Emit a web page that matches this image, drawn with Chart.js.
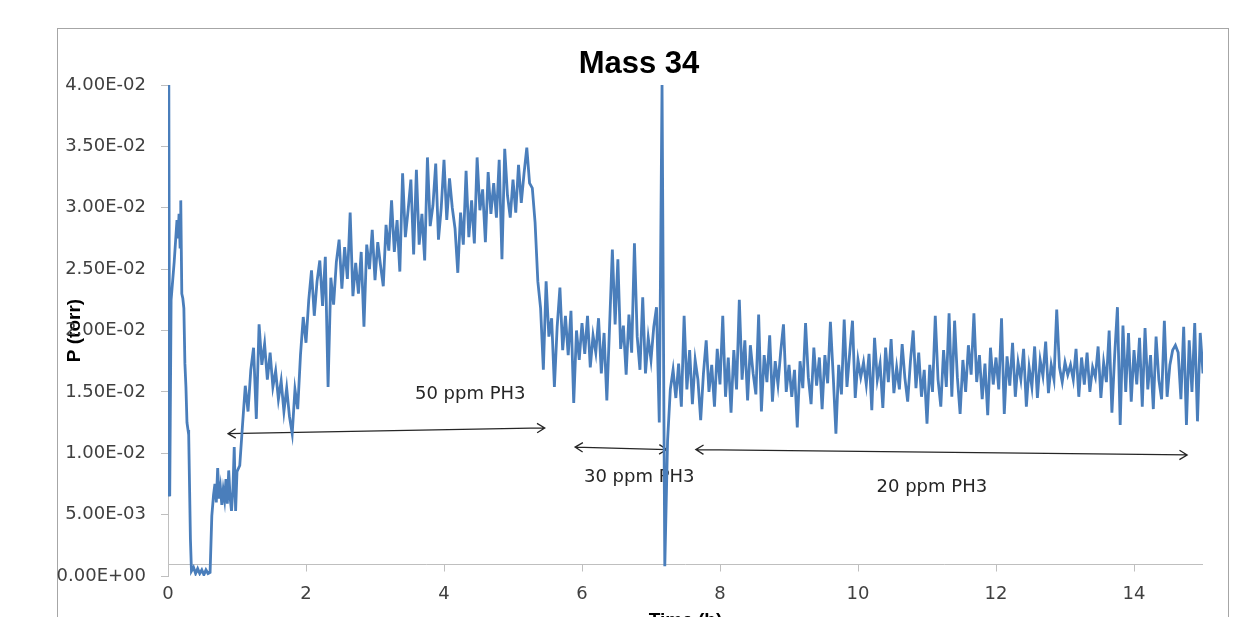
<!DOCTYPE html>
<html>
<head>
<meta charset="utf-8">
<title>Mass 34</title>
<script src="https://cdn.jsdelivr.net/npm/chart.js@4.4.1/dist/chart.umd.min.js"></script>
<style>
  html, body { margin: 0; padding: 0; background: #fff; overflow: hidden; }
  #frame { position: absolute; left: 57px; top: 28px; width: 1170px; height: 700px; border: 1px solid #a6a6a6; }
  #wrap { position: absolute; left: 0; top: 0; width: 1252px; height: 640px; }
  #chart { width: 1252px; height: 640px; }
</style>
</head>
<body>
<div id="frame"></div>
<div id="wrap"><canvas id="chart" width="1252" height="640"></canvas></div>
<script>
// --- Data (pressure values in 1e-3 torr) ---
const TORR_PER_UNIT = 1e-3;

// start-up: pump-down, spike and first rise, irregular sample times (h)
const startupTimes = [
  0.000, 0.012, 0.025, 0.045, 0.09, 0.13, 0.145, 0.16, 0.175, 0.185,
  0.20, 0.215, 0.23, 0.245, 0.26, 0.275, 0.29, 0.30, 0.325, 0.34,
  0.37, 0.40, 0.43, 0.46, 0.49, 0.52, 0.55, 0.58, 0.61, 0.635,
  0.66, 0.68, 0.70, 0.72, 0.74, 0.76, 0.78, 0.80, 0.82, 0.84,
  0.86, 0.88, 0.90, 0.92, 0.94, 0.96, 0.98, 1.00
];
const startupValues = [
  6.6, 40.0, 6.5, 22.5, 25.6, 29.0, 27.5, 29.5, 26.8, 30.6,
  23.0, 22.6, 21.8, 17.3, 15.4, 12.5, 11.9, 11.5, 3.0, 0.4,
  0.7, 0.2, 0.6, 0.2, 0.5, 0.1, 0.5, 0.2, 0.3, 4.9,
  6.6, 7.5, 6.0, 8.8, 6.3, 7.2, 5.8, 7.0, 6.2, 7.9,
  5.9, 8.6, 6.4, 5.3, 6.9, 10.5, 5.3, 8.5
];

// regular logging, one sample every 0.04 h from 1.04 h to 15.00 h
const RUN_START = 1.04;
const RUN_STEP = 0.04;
const hour1 = [9.0, 12.3, 15.5, 13.4, 16.8, 18.6, 12.8, 20.5, 17.2, 18.9, 16.0, 18.2, 15.4, 16.7, 14.4, 15.9, 13.4, 15.3, 13.0, 11.6, 15.2, 13.6, 18.0, 21.1, 19.0];
const hour2 = [22.5, 24.9, 21.2, 24.0, 25.7, 22.0, 26.0, 15.4, 24.3, 22.1, 25.6, 27.4, 23.4, 26.8, 24.2, 29.6, 22.8, 25.5, 23.0, 26.4, 20.3, 27.0, 25.0, 28.2, 24.1];
const hour3 = [27.2, 25.3, 23.6, 28.6, 26.5, 30.6, 26.4, 29.0, 24.8, 32.8, 27.6, 29.8, 32.3, 26.2, 33.1, 27.0, 29.5, 25.7, 34.1, 28.5, 30.2, 33.6, 27.4, 30.0, 33.9];
const hour4 = [29.0, 32.4, 30.0, 28.3, 24.7, 29.6, 27.0, 33.0, 27.6, 30.6, 27.1, 34.1, 29.8, 31.5, 27.2, 32.9, 29.5, 32.0, 29.2, 33.9, 25.8, 34.8, 31.0, 29.2, 32.3];
const hour5 = [29.6, 33.5, 30.4, 32.8, 34.9, 32.0, 31.6, 28.8, 24.0, 21.8, 16.8, 24.0, 19.5, 21.0, 15.4, 20.3, 23.5, 18.4, 21.2, 18.0, 21.6, 14.1, 20.0, 17.6, 20.6];
const hour6 = [18.1, 21.2, 17.0, 19.6, 18.2, 21.0, 16.5, 19.8, 14.3, 20.4, 26.6, 20.5, 25.8, 18.5, 20.4, 16.4, 21.3, 18.2, 27.1, 19.5, 16.8, 22.7, 16.5, 19.4, 17.6];
const hour7 = [20.3, 21.9, 12.5, 40.0, 0.8, 11.0, 15.2, 16.8, 14.5, 17.3, 13.8, 21.2, 15.2, 18.4, 14.0, 17.6, 16.0, 12.7, 16.5, 19.2, 15.0, 17.2, 13.8, 18.5, 15.6];
const hour8 = [21.2, 14.6, 17.8, 13.3, 18.4, 15.2, 22.5, 16.0, 19.2, 14.3, 18.8, 16.5, 14.8, 21.3, 13.4, 18.0, 15.8, 19.6, 14.2, 17.5, 15.6, 18.3, 20.5, 15.0, 17.2];
const hour9 = [14.6, 16.8, 12.1, 17.5, 15.3, 20.6, 16.2, 14.0, 18.6, 15.5, 17.8, 13.6, 18.0, 15.7, 20.7, 16.4, 11.6, 17.2, 14.8, 20.9, 15.4, 18.2, 20.8, 14.5, 17.6];
const hour10 = [16.2, 17.4, 15.6, 18.1, 13.5, 19.4, 16.0, 17.3, 13.7, 18.6, 15.8, 19.3, 14.9, 17.0, 15.2, 18.9, 16.1, 14.2, 17.5, 20.0, 15.3, 18.2, 14.6, 16.8, 12.4];
const hour11 = [17.2, 15.0, 21.2, 16.0, 13.8, 18.4, 15.4, 21.4, 14.6, 20.8, 16.2, 13.2, 17.6, 15.0, 18.8, 16.4, 21.4, 15.8, 18.0, 14.4, 17.3, 13.1, 18.6, 15.6, 17.8];
const hour12 = [15.2, 21.0, 13.2, 17.9, 15.5, 19.0, 14.6, 17.4, 16.0, 18.5, 13.8, 17.0, 15.4, 18.7, 14.5, 17.6, 16.3, 19.1, 14.9, 17.2, 16.0, 21.7, 17.0, 15.8, 17.4];
const hour13 = [16.4, 17.2, 16.0, 18.5, 14.6, 17.8, 15.6, 18.2, 15.0, 17.0, 16.2, 18.7, 14.5, 17.4, 15.8, 20.0, 13.3, 18.0, 21.9, 12.3, 20.4, 15.0, 19.8, 14.2, 18.4];
const hour14 = [15.6, 19.4, 13.8, 20.2, 15.2, 18.0, 13.6, 19.5, 16.0, 14.4, 20.8, 14.6, 17.2, 18.4, 18.8, 18.2, 14.4, 20.3, 12.3, 19.2, 15.0, 20.6, 12.6, 19.8, 16.5];
const runValues = [].concat(hour1, hour2, hour3, hour4, hour5, hour6, hour7,
  hour8, hour9, hour10, hour11, hour12, hour13, hour14);

// --- Axis settings ---
const X_MAX = 15;
const Y_MAX = 0.04;
const AXIS_CROSS = 0.001; // horizontal axis crosses the P axis here

// --- Annotations (time in h, pressure in 1e-3 torr) ---
const noteLabels = ['50 ppm PH3', '30 ppm PH3', '20 ppm PH3'];
const noteFromH = [0.87, 5.90, 7.65];
const noteToH = [5.46, 7.23, 14.77];
const noteFromP = [11.6, 10.5, 10.3];
const noteToP = [12.06, 10.3, 9.86];
const noteTextH = [4.38, 6.83, 11.07];
const noteTextP = [14.8, 8.0, 7.2];

// --- Build line points ---
const points = [];
startupTimes.forEach((t, i) => points.push({ x: t, y: startupValues[i] * TORR_PER_UNIT }));
runValues.forEach((v, i) => points.push({ x: RUN_START + i * RUN_STEP, y: v * TORR_PER_UNIT }));

function sciLabel(v) {
  if (Math.abs(v) < 1e-12) return '0.00E+00';
  const exp = Math.floor(Math.log10(Math.abs(v)) + 1e-9);
  const mant = v / Math.pow(10, exp);
  const sign = exp < 0 ? '-' : '+';
  return mant.toFixed(2) + 'E' + sign + String(Math.abs(exp)).padStart(2, '0');
}

function drawArrowHead(ctx, x, y, ang) {
  const len = 9, spread = 0.55;
  ctx.moveTo(x - len * Math.cos(ang - spread), y - len * Math.sin(ang - spread));
  ctx.lineTo(x, y);
  ctx.lineTo(x - len * Math.cos(ang + spread), y - len * Math.sin(ang + spread));
}

// axis line at AXIS_CROSS plus the span arrows, under the data line
const underlayPlugin = {
  id: 'underlay',
  beforeDatasetsDraw(chart) {
    const { ctx, chartArea, scales: { x, y } } = chart;
    ctx.save();

    const py = Math.round(y.getPixelForValue(AXIS_CROSS)) + 0.5;
    ctx.strokeStyle = '#bfbfbf';
    ctx.lineWidth = 1;
    ctx.beginPath();
    ctx.moveTo(chartArea.left, py);
    ctx.lineTo(chartArea.right, py);
    x.ticks.forEach(t => {
      const px = Math.round(x.getPixelForValue(t.value)) + 0.5;
      ctx.moveTo(px, py);
      ctx.lineTo(px, py + 7);
    });
    ctx.stroke();

    ctx.strokeStyle = '#262626';
    ctx.lineWidth = 1.3;
    ctx.fillStyle = '#262626';
    ctx.font = '18px "DejaVu Sans"';
    ctx.textAlign = 'center';
    ctx.textBaseline = 'middle';
    noteLabels.forEach((label, i) => {
      const x1 = x.getPixelForValue(noteFromH[i]);
      const y1 = y.getPixelForValue(noteFromP[i] * TORR_PER_UNIT);
      const x2 = x.getPixelForValue(noteToH[i]);
      const y2 = y.getPixelForValue(noteToP[i] * TORR_PER_UNIT);
      const ang = Math.atan2(y2 - y1, x2 - x1);
      ctx.beginPath();
      ctx.moveTo(x1, y1);
      ctx.lineTo(x2, y2);
      drawArrowHead(ctx, x2, y2, ang);
      drawArrowHead(ctx, x1, y1, ang + Math.PI);
      ctx.stroke();
      ctx.fillText(label,
        x.getPixelForValue(noteTextH[i]),
        y.getPixelForValue(noteTextP[i] * TORR_PER_UNIT));
    });
    ctx.restore();
  }
};

const tickFont = { family: 'DejaVu Sans', size: 18 };
const titleFont = { family: 'Liberation Sans', size: 19, weight: 'bold' };

new Chart(document.getElementById('chart'), {
  type: 'line',
  data: {
    datasets: [{
      label: 'Mass 34',
      data: points,
      borderColor: '#4a7ebb',
      borderWidth: 2.8,
      pointRadius: 0,
      tension: 0,
      fill: false
    }]
  },
  options: {
    responsive: false,
    animation: false,
    parsing: false,
    layout: { padding: { left: 56, right: 30, top: 28, bottom: 0 } },
    plugins: {
      legend: { display: false },
      tooltip: { enabled: false },
      title: {
        display: true,
        text: 'Mass 34',
        color: '#000',
        font: { family: 'Liberation Sans', size: 31, weight: 'bold' },
        padding: { top: 17.4, bottom: 2.4 }
      }
    },
    scales: {
      x: {
        type: 'linear',
        min: 0,
        max: X_MAX,
        afterFit: s => { s.height = 64; },
        grid: { display: false, drawTicks: false },
        border: { display: false },
        ticks: { stepSize: 2, includeBounds: false, padding: 8, color: '#404040', font: tickFont, maxRotation: 0 },
        title: { display: true, text: 'Time (h)', color: '#000', font: titleFont, padding: { top: 0, bottom: 7.5 } }
      },
      y: {
        type: 'linear',
        min: 0,
        max: Y_MAX,
        afterFit: s => { s.width = 112; },
        grid: { color: 'transparent', tickColor: '#bfbfbf', tickLength: 7, drawTicks: true },
        border: { display: true, color: '#bfbfbf', width: 1 },
        ticks: { stepSize: 0.005, padding: 15, color: '#404040', font: tickFont, callback: v => sciLabel(v) },
        title: { display: true, text: 'P (torr)', color: '#000', font: titleFont, padding: { top: 7.6, bottom: 0 } }
      },
      // empty right-hand margin so the title centres on the whole frame
      yRight: {
        type: 'linear',
        position: 'right',
        min: 0,
        max: Y_MAX,
        afterFit: s => { s.width = 19; },
        grid: { display: false, drawTicks: false },
        border: { display: false },
        ticks: { display: false }
      }
    }
  },
  plugins: [underlayPlugin]
});
</script>
</body>
</html>
